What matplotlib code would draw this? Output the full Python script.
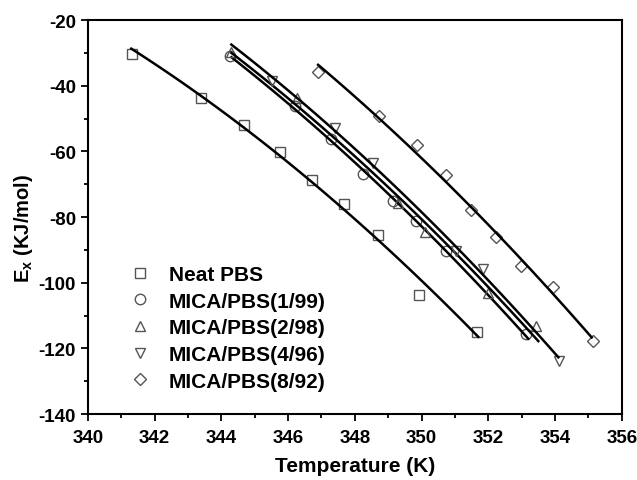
import matplotlib.pyplot as plt
import numpy as np

plt.rcParams['font.family'] = ['Liberation Sans', 'DejaVu Sans']
plt.rcParams['font.weight'] = 'bold'
plt.rcParams['axes.unicode_minus'] = False
plt.rcParams['mathtext.fontset'] = 'custom'
plt.rcParams['mathtext.rm'] = 'Liberation Sans:bold'
plt.rcParams['mathtext.bf'] = 'Liberation Sans:bold'

# values
labels = ['Neat PBS', 'MICA/PBS(1/99)', 'MICA/PBS(2/98)', 'MICA/PBS(4/96)', 'MICA/PBS(8/92)']
markers = ['s', 'o', '^', 'v', 'D']

t_neat = [341.33, 343.38, 344.68, 345.76, 346.73, 347.67, 348.69, 349.92, 351.67]
e_neat = [-30.2, -43.6, -51.9, -60.2, -68.7, -75.9, -85.5, -103.7, -115.0]

t_1 = [344.25, 346.20, 347.30, 348.24, 349.14, 349.84, 350.74, 353.13]
e_1 = [-31.0, -46.1, -56.3, -66.8, -75.1, -81.2, -90.3, -115.7]

t_2 = [344.30, 346.27, 349.29, 350.09, 351.99, 353.43]
e_2 = [-29.7, -43.6, -75.6, -84.4, -103.0, -113.1]

t_4 = [345.53, 347.40, 348.54, 351.04, 351.84, 354.13]
e_4 = [-38.5, -53.0, -63.4, -90.3, -95.9, -123.9]

t_8 = [346.90, 348.74, 349.86, 350.74, 351.47, 352.22, 352.99, 353.93, 355.13]
e_8 = [-35.9, -49.2, -58.0, -67.2, -77.8, -86.1, -94.9, -101.3, -117.8]

# start/end of each fitted curve
fit_range = [(341.3, 351.7), (344.3, 353.2), (344.3, 353.5), (344.3, 354.1), (346.9, 355.1)]

series = [(t_neat, e_neat), (t_1, e_1), (t_2, e_2), (t_4, e_4), (t_8, e_8)]

# shared curvature from all points, then a straight fit per series on the rest
all_t = np.concatenate([np.array(t) - np.mean(t) for t, e in series])
all_e = np.concatenate([np.array(e) - np.mean(e) for t, e in series])
curv = np.polyfit(all_t, all_e, 2)[0]

fig = plt.figure(figsize=(6.37, 4.81), dpi=100)
ax = fig.add_axes([0.138, 0.137, 0.838, 0.819])

handles = []
for (t, e), m, lab, (a, b) in zip(series, markers, labels, fit_range):
    t = np.array(t)
    e = np.array(e)
    ms = 6 if m == 'D' else 7.5
    h, = ax.plot(t, e, linestyle='none', marker=m, ms=ms, mfc='none',
                 mec='#555555', mew=1.0, label=lab)
    handles.append(h)
    t0 = t.mean()
    k, c = np.polyfit(t - t0, e - curv * (t - t0) ** 2, 1)
    xx = np.linspace(a, b, 100)
    ax.plot(xx, curv * (xx - t0) ** 2 + k * (xx - t0) + c, color='black', lw=1.8)

ax.set_xlim(340, 356)
ax.set_ylim(-140, -20)
ax.set_xticks(np.arange(340, 357, 2))
ax.set_xticks(np.arange(341, 356, 2), minor=True)
ax.set_yticks(np.arange(-140, -19, 20))
ax.set_yticks(np.arange(-130, -20, 20), minor=True)
ax.tick_params(which='both', direction='out', top=False, right=False, labelsize=13.5)
ax.tick_params(axis='x', which='major', pad=6)
ax.tick_params(which='major', length=5, width=1.3)
ax.tick_params(which='minor', length=3, width=1.3)
for s in ax.spines.values():
    s.set_linewidth(1.5)

ax.set_xlabel('Temperature (K)', fontsize=15, fontweight='bold', labelpad=7)
ax.set_ylabel(r'$\mathregular{E_x}$ (KJ/mol)', fontsize=14.5, fontweight='bold')
ax.yaxis.set_label_coords(-0.10, 0.475)

ax.legend(handles=handles, loc='upper left', bbox_to_anchor=(0.062, 0.40),
          frameon=False, fontsize=15, handlelength=1.0, handletextpad=0.9,
          labelspacing=0.37, borderaxespad=0)

fig.savefig('out.png', dpi=100)
